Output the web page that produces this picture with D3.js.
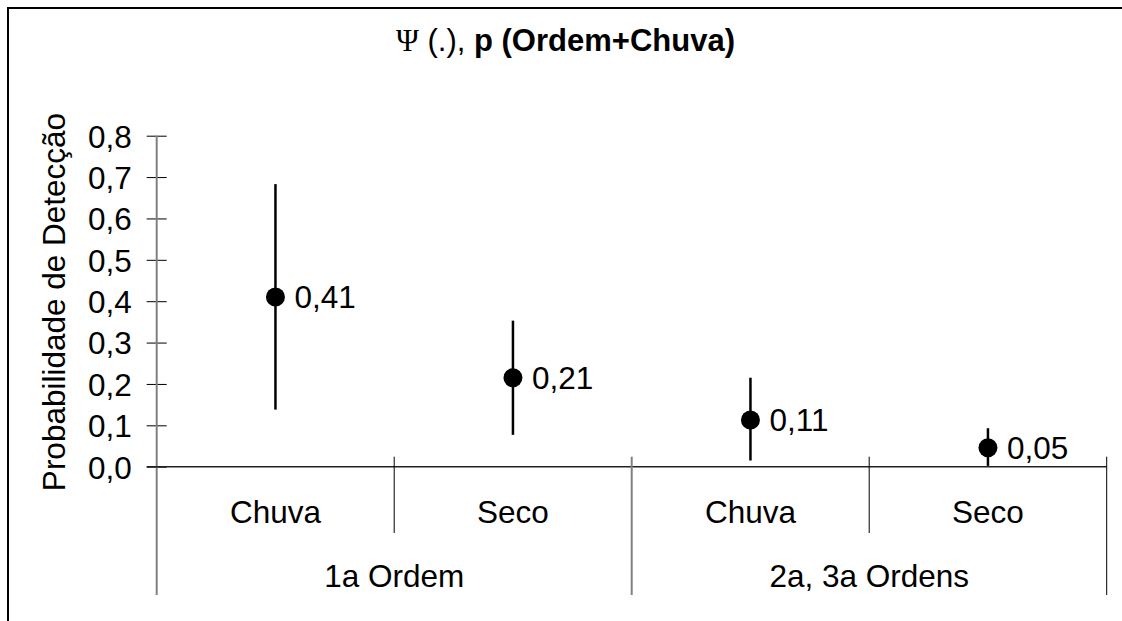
<!DOCTYPE html>
<html>
<head>
<meta charset="utf-8">
<script src="https://cdn.jsdelivr.net/npm/d3@7"></script>
<style>
  body { margin: 0; background: #fff; }
  svg text { font-family: "Liberation Sans", Arial, sans-serif; fill: #000; }
</style>
</head>
<body>
<svg id="chart" width="1122" height="621"></svg>
<script>
// Values
var groups = ["1a Ordem", "2a, 3a Ordens"];
var periods = ["Chuva", "Seco", "Chuva", "Seco"];
var estimates = [0.41, 0.215, 0.113, 0.046];
var lower = [0.138, 0.077, 0.015, 0.002];
var upper = [0.683, 0.353, 0.215, 0.093];
var valueLabels = ["0,41", "0,21", "0,11", "0,05"];
var yTicks = [0, 0.1, 0.2, 0.3, 0.4, 0.5, 0.6, 0.7, 0.8];

var svg = d3.select("#chart");
var W = 1122, H = 621;

var plotLeft = 156.7, plotRight = 1106.7;
var plotTop = 135.7, plotBottom = 466.7;
var fs = 31.5;

var ptLocale = d3.formatLocale({decimal: ",", thousands: ".", grouping: [3], currency: ["", ""]});
var fmt = ptLocale.format(".1f");

var y = d3.scaleLinear().domain([0, 0.8]).range([plotBottom, plotTop]);
var x = d3.scaleBand().domain(d3.range(periods.length)).range([plotLeft, plotRight]);
var xg = d3.scaleBand().domain(groups).range([plotLeft, plotRight]);

// outer frame (runs off right and bottom edges)
svg.append("path")
  .attr("d", "M8," + (H + 5) + "V8H" + (W + 5))
  .attr("fill", "none").attr("stroke", "#000").attr("stroke-width", 2);

// title
var title = svg.append("text")
  .attr("x", 565.5).attr("y", 51)
  .attr("text-anchor", "middle")
  .style("font-size", "31px");
title.append("tspan").style("font-family", "'Liberation Serif', 'Times New Roman', serif").text("\u03A8");
title.append("tspan").text(" (.), ");
title.append("tspan").style("font-weight", "bold").text("p (Ordem+Chuva)");

// y axis
var yAxis = d3.axisLeft(y).tickValues(yTicks).tickFormat(fmt).tickSizeInner(10).tickSizeOuter(0).tickPadding(15);
var gy = svg.append("g").attr("transform", "translate(" + plotLeft + ",0)").call(yAxis);
gy.select(".domain").remove();
gy.selectAll(".tick line").attr("x1", 10).attr("stroke", "#000").attr("stroke-width", 1);
gy.selectAll(".tick text").style("font-size", fs + "px").attr("dy", "0.36em")
  .style("font-family", "'Liberation Sans', Arial, sans-serif").attr("fill", "#000");

// gray y axis line running down through category area
svg.append("line")
  .attr("x1", plotLeft).attr("x2", plotLeft)
  .attr("y1", y(0.8)).attr("y2", 595)
  .attr("stroke", "#808080").attr("stroke-width", 2);

// y axis title
svg.append("text")
  .attr("transform", "translate(65," + 302 + ") rotate(-90)")
  .attr("text-anchor", "middle")
  .style("font-size", fs + "px")
  .text("Probabilidade de Detecção");

// x baseline
svg.append("line")
  .attr("x1", plotLeft - 10).attr("x2", plotRight)
  .attr("y1", y(0)).attr("y2", y(0))
  .attr("stroke", "#222").attr("stroke-width", 1.5);

// category separators
var catEdges = d3.range(1, periods.length + 1);
svg.selectAll("line.cat-sep").data(catEdges).enter().append("line")
  .attr("class", "cat-sep")
  .attr("x1", function(d) { return plotLeft + d * x.step(); })
  .attr("x2", function(d) { return plotLeft + d * x.step(); })
  .attr("y1", y(0) - 10)
  .attr("y2", function(d) { return d % 2 == 0 ? 595 : 533; })
  .attr("stroke", function(d) { return d == 2 ? "#808080" : "#000"; })
  .attr("stroke-width", function(d) { return d == 2 ? 2 : 1; });

// category labels
svg.selectAll("text.period").data(periods).enter().append("text")
  .attr("class", "period")
  .attr("x", function(d, i) { return x(i) + x.bandwidth() / 2; })
  .attr("y", 523)
  .attr("text-anchor", "middle")
  .style("font-size", fs + "px")
  .text(function(d) { return d; });

// group labels
svg.selectAll("text.group").data(groups).enter().append("text")
  .attr("class", "group")
  .attr("x", function(d) { return xg(d) + xg.bandwidth() / 2; })
  .attr("y", 587)
  .attr("text-anchor", "middle")
  .style("font-size", fs + "px")
  .text(function(d) { return d; });

// error bars
svg.selectAll("line.err").data(estimates).enter().append("line")
  .attr("class", "err")
  .attr("x1", function(d, i) { return x(i) + x.bandwidth() / 2; })
  .attr("x2", function(d, i) { return x(i) + x.bandwidth() / 2; })
  .attr("y1", function(d, i) { return y(upper[i]); })
  .attr("y2", function(d, i) { return y(lower[i]); })
  .attr("stroke", "#000").attr("stroke-width", 2.5);

// points
svg.selectAll("circle.pt").data(estimates).enter().append("circle")
  .attr("class", "pt")
  .attr("cx", function(d, i) { return x(i) + x.bandwidth() / 2; })
  .attr("cy", function(d) { return y(d); })
  .attr("r", 9.5)
  .attr("fill", "#000");

// value labels
svg.selectAll("text.val").data(estimates).enter().append("text")
  .attr("class", "val")
  .attr("x", function(d, i) { return x(i) + x.bandwidth() / 2 + 19; })
  .attr("y", function(d) { return y(d); })
  .attr("dy", "0.36em")
  .style("font-size", fs + "px")
  .text(function(d, i) { return valueLabels[i]; });
</script>
</body>
</html>
